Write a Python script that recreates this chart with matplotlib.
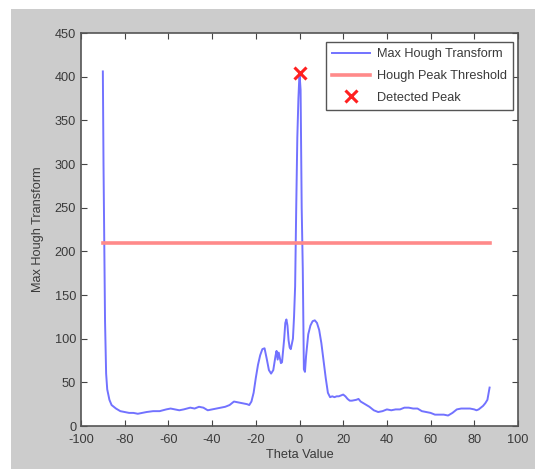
import matplotlib
matplotlib.use('Agg')
import matplotlib.pyplot as plt
from matplotlib.patches import Rectangle

# data
theta = [-90, -89.7, -89.4, -89, -88.5, -88, -87, -86, -84, -82, -80, -78, -76, -74,
         -72, -70, -67, -64, -61, -59, -57, -55, -53, -50, -48, -46, -44, -42, -40,
         -38, -36, -34, -32, -30, -28, -26, -24, -23, -22, -21, -20, -19, -18, -17,
         -16, -15, -14, -13, -12, -11, -10.5, -10, -9.5, -9, -8.5, -8, -7, -6.5, -6,
         -5.5, -5, -4.5, -4, -3, -2.5, -2, -1.5, -1, -0.5, 0, 0.5, 1, 1.5, 2, 2.5, 3,
         4, 5, 6, 7, 8, 9, 10, 11, 12, 13, 14, 15, 16, 17, 18, 19, 20, 21, 22, 23,
         24, 26, 27, 28, 30, 32, 34, 36, 38, 40, 42, 44, 46, 48, 50, 52, 54, 56, 58,
         60, 62, 64, 66, 68, 70, 72, 74, 76, 78, 80, 81, 82, 83, 84, 85, 86, 87]
max_hough = [406, 300, 220, 120, 60, 42, 30, 24, 20, 17, 16, 15, 15, 14,
             15, 16, 17, 17, 19, 20, 19, 18, 19, 21, 20, 22, 21, 18, 19,
             20, 21, 22, 24, 28, 27, 26, 25, 24, 28, 38, 55, 70, 81, 88,
             89, 77, 64, 60, 64, 80, 86, 76, 84, 78, 72, 73, 100, 118, 122,
             115, 98, 90, 88, 100, 125, 160, 250, 330, 375, 404, 385, 250, 180, 65, 62, 80,
             105, 115, 120, 121, 118, 110, 95, 75, 55, 38, 33, 34, 33, 34, 34, 35, 36, 34, 31, 29,
             29, 30, 31, 28, 25, 22, 18, 16, 17, 19, 18, 19, 19, 21, 21, 20, 20, 17, 16,
             15, 13, 13, 13, 12, 15, 19, 20, 20, 20, 19, 18, 19, 21, 23, 26, 30, 44]

threshold = 210
threshold_range = [-90, 87]
peak_theta = [0]
peak_value = [404]

plt.rcParams['font.family'] = ['Liberation Sans', 'DejaVu Sans']
plt.rcParams['axes.unicode_minus'] = False
txt = '#3a3a3a'
fs = 9.2

fig = plt.figure(figsize=(5.35, 4.69), dpi=100, facecolor='white')
# gray matlab figure area (white strip left/top in the screenshot)
fig.patches.append(Rectangle((11 / 535, 0), 1, 460 / 469, transform=fig.transFigure,
                             facecolor='#cccccc', edgecolor='none', zorder=-10))

ax = fig.add_axes([81 / 535, 43 / 469, 437 / 535, 393 / 469])
ax.set_facecolor('white')

ax.plot(theta, max_hough, color='#7272ff', lw=1.4, label='Max Hough Transform')
ax.plot(threshold_range, [threshold, threshold], color='#ff8a8a', lw=2.6,
        label='Hough Peak Threshold')
ax.plot(peak_theta, peak_value, 'x', color='#ff2020', ms=8, mew=2.2,
        label='Detected Peak', zorder=5)

ax.set_xlim(-100, 100)
ax.set_ylim(0, 450)
ax.set_xticks(range(-100, 101, 20))
ax.set_yticks(range(0, 451, 50))
ax.tick_params(direction='in', top=True, right=True, length=4, width=0.8,
               colors='#444444', labelcolor=txt, labelsize=fs)
ax.tick_params(axis='x', pad=6)
for s in ax.spines.values():
    s.set_color('#555555')
    s.set_linewidth(1.2)

ax.set_xlabel('Theta Value', color=txt, fontsize=fs, labelpad=2)
ax.set_ylabel('Max Hough Transform', color=txt, fontsize=fs, labelpad=8)

leg = ax.legend(loc='upper right', bbox_to_anchor=(0.989, 0.977), borderaxespad=0,
                fancybox=False, framealpha=1, edgecolor='#555555', fontsize=fs,
                handlelength=3.0, handletextpad=0.5, labelspacing=0.75, borderpad=0.5)
leg.get_frame().set_linewidth(1.0)
for t in leg.get_texts():
    t.set_color(txt)

plt.savefig('out.png', dpi=100, facecolor=fig.get_facecolor())
